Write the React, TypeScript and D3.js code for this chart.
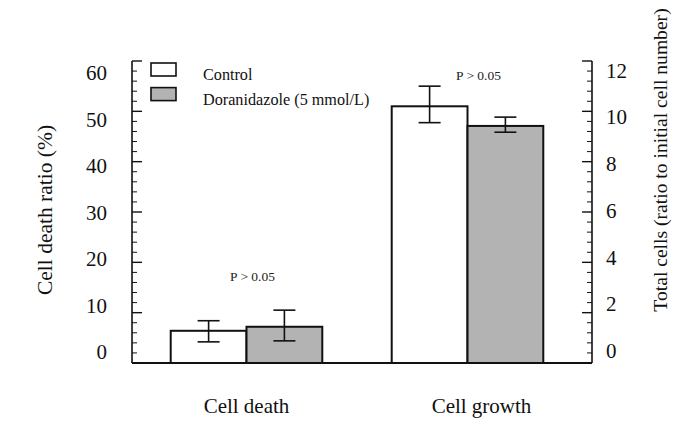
import React from "react";
import * as d3 from "d3";

const categories = ["Cell death", "Cell growth"];
const series = ["Control", "Doranidazole (5 mmol/L)"];
const seriesFill = ["#ffffff", "#b3b3b3"];
// Cell death in %, cell growth as ratio (right axis)
const controlMeans = [6.4, 10.2];
const doraMeans = [7.2, 9.42];
const controlErrUp = [2.0, 0.8];
const controlErrDown = [2.2, 0.65];
const doraErrUp = [3.3, 0.35];
const doraErrDown = [2.8, 0.25];
const pLabels = ["P > 0.05", "P > 0.05"];
const pLabelY = [16.3, 11.25];
const leftTicks = [0, 10, 20, 30, 40, 50, 60];
const rightTicks = [0, 2, 4, 6, 8, 10, 12];

const W = 685;
const H = 429;
const xL = 132;
const xR = 592;
const yTop = 61;
const yBot = 363;
const FONT = "Liberation Serif";

export default function App() {
  const yLeft = d3.scaleLinear().domain([0, 60]).range([yBot, yTop]);
  const yRight = d3.scaleLinear().domain([0, 12]).range([yBot, yTop]);
  const yLeftLabel = d3.scaleLinear().domain([0, 60]).range([352, 73]);
  const yRightLabel = d3.scaleLinear().domain([0, 12]).range([351, 70.7]);
  const xGroup = d3.scaleBand().domain(categories).range([136, 578]).paddingInner(0).paddingOuter(0);
  const xSub = d3
    .scaleBand()
    .domain(series)
    .range([0, xGroup.bandwidth()])
    .paddingInner(0)
    .paddingOuter(0.458);

  const scales = [yLeft, yRight];
  const means = [controlMeans, doraMeans];
  const errUp = [controlErrUp, doraErrUp];
  const errDown = [controlErrDown, doraErrDown];

  const leftMinor = d3.range(0, 61, 2).filter((v) => v % 10 !== 0);
  const rightMinor = d3.range(0, 12.01, 0.4).filter((v) => Math.abs(v / 2 - Math.round(v / 2)) > 1e-6);

  const capHalf = 11;
  const labelDx = [0, 14];
  const ts = { fontFamily: FONT };

  return (
    <svg
      width={W}
      height={H}
      style={{ position: "absolute", left: 0, top: 0, background: "#fff", fontFamily: FONT }}
    >
      <rect x={0} y={0} width={W} height={H} fill="#fff" />
      {categories.map((c, ci) => {
        const ys = scales[ci];
        return series.map((s, si) => {
          const x0 = (xGroup(c) as number) + (xSub(s) as number);
          const bw = xSub.bandwidth();
          const v = means[si][ci];
          const cx = x0 + bw / 2;
          const yTopErr = ys(v + errUp[si][ci]);
          const yBotErr = ys(v - errDown[si][ci]);
          return (
            <g key={c + s}>
              <rect
                x={x0}
                y={ys(v)}
                width={bw}
                height={yBot - ys(v)}
                fill={seriesFill[si]}
                stroke="#111"
                strokeWidth={2}
              />
              <line x1={cx} x2={cx} y1={yTopErr} y2={yBotErr} stroke="#111" strokeWidth={1.6} />
              <line x1={cx - capHalf} x2={cx + capHalf} y1={yTopErr} y2={yTopErr} stroke="#111" strokeWidth={1.6} />
              <line x1={cx - capHalf} x2={cx + capHalf} y1={yBotErr} y2={yBotErr} stroke="#111" strokeWidth={1.6} />
            </g>
          );
        });
      })}
      {categories.map((c, ci) => (
        <text
          key={"p" + c}
          style={ts}
          x={(xGroup(c) as number) + xGroup.bandwidth() / 2 + 6 + (ci === 1 ? 5 : 0)}
          y={scales[ci](pLabelY[ci])}
          textAnchor="middle"
          fontSize={13.5}
          fill="#222"
        >
          {pLabels[ci]}
        </text>
      ))}
      <line x1={xL} x2={xL} y1={yTop} y2={yBot} stroke="#111" strokeWidth={1.6} />
      <line x1={xR} x2={xR} y1={yTop} y2={yBot} stroke="#111" strokeWidth={1.6} />
      <line x1={xL} x2={xR} y1={yBot} y2={yBot} stroke="#111" strokeWidth={1.8} />
      {leftTicks.map((t) => (
        <g key={"lt" + t}>
          <line x1={xL} x2={xL + 10} y1={yLeft(t)} y2={yLeft(t)} stroke="#111" strokeWidth={1.4} />
          <text
            style={ts}
            x={107}
            y={yLeftLabel(t)}
            textAnchor="end"
            dominantBaseline="central"
            fontSize={21}
            fill="#111"
          >
            {t}
          </text>
        </g>
      ))}
      {leftMinor.map((t) => (
        <line key={"lm" + t} x1={xL} x2={xL + 5} y1={yLeft(t)} y2={yLeft(t)} stroke="#111" strokeWidth={1} />
      ))}
      {rightTicks.map((t) => (
        <g key={"rt" + t}>
          <line x1={xR} x2={xR - 10} y1={yRight(t)} y2={yRight(t)} stroke="#111" strokeWidth={1.4} />
          <text
            style={ts}
            x={606}
            y={yRightLabel(t)}
            textAnchor="start"
            dominantBaseline="central"
            fontSize={21}
            fill="#111"
          >
            {t}
          </text>
        </g>
      ))}
      {rightMinor.map((t) => (
        <line key={"rm" + t} x1={xR} x2={xR - 5} y1={yRight(t)} y2={yRight(t)} stroke="#111" strokeWidth={1} />
      ))}
      {categories.map((c, ci) => (
        <text
          key={"cl" + c}
          style={ts}
          x={(xGroup(c) as number) + xGroup.bandwidth() / 2 + labelDx[ci]}
          y={413}
          textAnchor="middle"
          fontSize={21}
          fill="#111"
        >
          {c}
        </text>
      ))}
      <text
        style={ts}
        transform={`translate(52,210) rotate(-90)`}
        textAnchor="middle"
        fontSize={21.5}
        fill="#111"
      >
        Cell death ratio (%)
      </text>
      <text
        style={ts}
        transform={`translate(667,160) rotate(-90)`}
        textAnchor="middle"
        fontSize={19.6}
        fill="#111"
      >
        Total cells (ratio to initial cell number)
      </text>
      {series.map((s, si) => (
        <g key={"lg" + s}>
          <rect
            x={151}
            y={63 + si * 24.6}
            width={25}
            height={13}
            fill={seriesFill[si]}
            stroke="#111"
            strokeWidth={1.6}
          />
          <text style={ts} x={203} y={80 + si * 24.6} fontSize={16.2} fill="#111">
            {s}
          </text>
        </g>
      ))}
    </svg>
  );
}
